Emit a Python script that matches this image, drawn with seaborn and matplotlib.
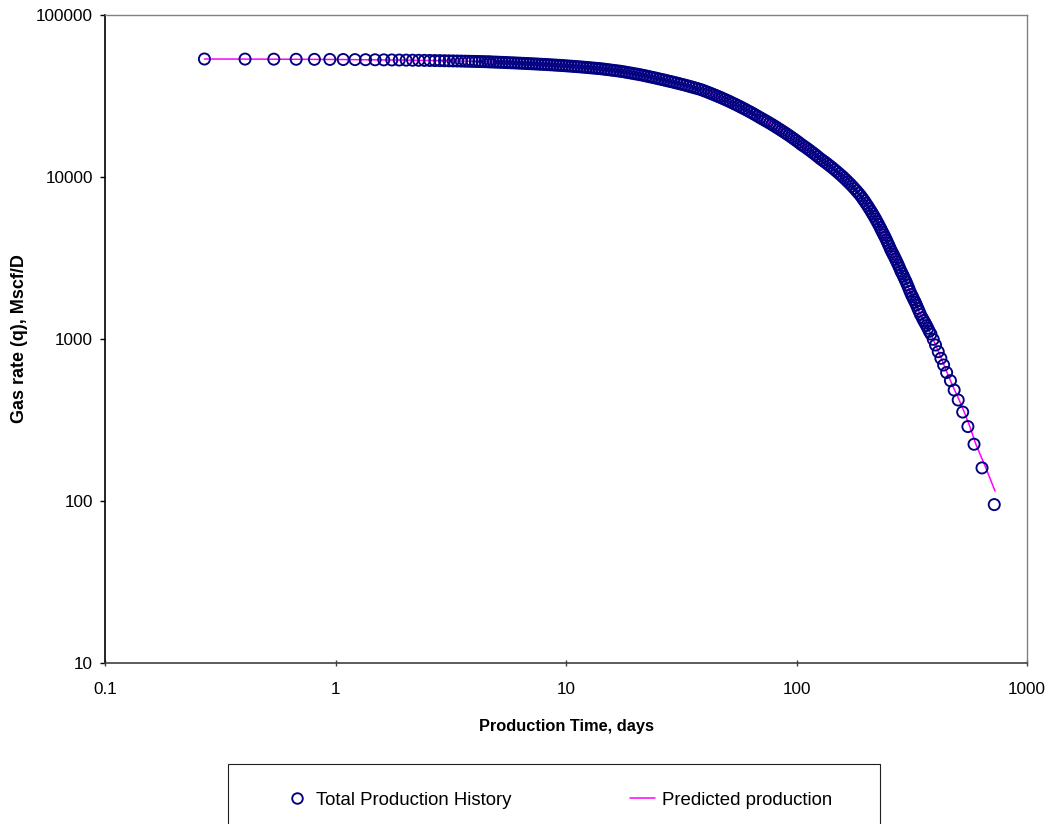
import matplotlib
matplotlib.use("Agg")
import matplotlib.pyplot as plt
from matplotlib.lines import Line2D
from matplotlib.patches import Rectangle
import pandas as pd
import seaborn as sns

# Gas rate history, days vs Mscf/D (early, dense middle and tail sections)
early_days = [0.270, 0.405, 0.540, 0.675, 0.810, 0.945, 1.080, 1.215, 1.350, 1.485,
              1.620, 1.755, 1.890, 2.025, 2.160, 2.295, 2.430, 2.565, 2.700, 2.835,
              2.970, 3.105, 3.240, 3.375, 3.510, 3.645, 3.780, 3.915, 4.050, 4.185,
              4.320, 4.455, 4.590]
early_rate = [53500, 53435, 53370, 53305, 53240, 53175, 53110, 53045, 52980, 52915,
              52850, 52785, 52720, 52655, 52590, 52525, 52460, 52395, 52330, 52265,
              52200, 52135, 52070, 52005, 51940, 51875, 51810, 51745, 51680, 51615,
              51550, 51485, 51420]

mid_days = [4.700, 4.844, 4.991, 5.143, 5.300, 5.461, 5.628, 5.799, 5.976, 6.158,
            6.346, 6.539, 6.739, 6.944, 7.155, 7.373, 7.598, 7.828, 8.066, 8.312,
            8.565, 8.826, 9.095, 9.372, 9.656, 9.950, 10.25, 10.57, 10.89, 11.22,
            11.56, 11.91, 12.28, 12.65, 13.03, 13.43, 13.84, 14.26, 14.70, 15.14,
            15.61, 16.08, 16.57, 17.08, 17.60, 18.13, 18.69, 19.26, 19.84, 20.45,
            21.07, 21.71, 22.37, 23.06, 23.76, 24.48, 25.23, 25.99, 26.78, 27.60,
            28.44, 29.30, 30.20, 31.12, 32.06, 33.04, 34.05, 35.09, 36.15, 37.26,
            38.38, 39.43, 40.51, 41.62, 42.76, 43.93, 45.13, 46.37, 47.65, 48.95,
            50.29, 51.67, 53.08, 54.54, 56.01, 57.56, 59.13, 60.75, 62.41, 64.12,
            65.88, 67.67, 69.52, 71.21, 72.94, 74.71, 76.53, 78.39, 80.28, 82.23,
            84.22, 86.29, 88.38, 90.53, 92.73, 94.99, 97.29, 99.66, 102.1, 104.5,
            107.0, 109.7, 112.3, 115.0, 117.8, 120.7, 123.6, 126.6, 129.7, 132.9,
            136.1, 139.4, 142.8, 146.2, 149.8, 153.4, 157.1, 160.4, 163.9, 167.3,
            170.9, 174.5, 178.2, 182.0, 185.9, 189.8, 193.4, 196.7, 200.0, 203.5,
            207.0, 210.6, 213.8, 217.0, 220.3, 223.6, 227.0, 230.5, 233.4, 236.4,
            239.5, 242.6, 245.8, 249.0, 252.3, 255.6, 258.9, 262.3, 265.7, 269.2,
            272.7, 276.3, 279.9, 283.6, 287.3, 291.1, 294.9, 298.7, 302.6, 306.6,
            310.6, 314.7, 318.8, 323.0, 327.2, 331.4, 335.8, 340.2, 344.6, 351.3,
            356.2, 361.3, 366.3, 371.5, 376.8]
mid_rate = [51340, 51250, 51170, 51080, 50985, 50890, 50790, 50690, 50600, 50500,
            50400, 50290, 50190, 50080, 49970, 49870, 49760, 49650, 49520, 49400,
            49270, 49140, 49020, 48890, 48750, 48590, 48440, 48280, 48130, 47970,
            47820, 47640, 47460, 47280, 47090, 46910, 46730, 46530, 46270, 46020,
            45770, 45520, 45270, 45010, 44710, 44390, 44060, 43730, 43400, 43080,
            42750, 42360, 41970, 41580, 41190, 40800, 40410, 40020, 39620, 39230,
            38830, 38430, 38040, 37640, 37230, 36810, 36380, 35960, 35540, 35110,
            34690, 34190, 33680, 33180, 32670, 32170, 31660, 31160, 30640, 30110,
            29590, 29060, 28530, 28010, 27480, 26950, 26420, 25890, 25360, 24840,
            24310, 23780, 23250, 22800, 22370, 21930, 21500, 21060, 20630, 20190,
            19750, 19320, 18900, 18480, 18060, 17630, 17210, 16790, 16370, 15950,
            15580, 15210, 14840, 14480, 14110, 13740, 13370, 13000, 12670, 12360,
            12050, 11730, 11420, 11100, 10790, 10470, 10170, 9890, 9610, 9330,
            9060, 8780, 8500, 8220, 7940, 7660, 7385, 7135, 6890, 6640,
            6390, 6140, 5930, 5720, 5510, 5300, 5100, 4890, 4710, 4550,
            4390, 4230, 4070, 3910, 3750, 3590, 3460, 3340, 3220, 3100,
            2985, 2865, 2750, 2630, 2535, 2440, 2345, 2255, 2160, 2065,
            1970, 1885, 1820, 1750, 1685, 1620, 1550, 1485, 1420, 1350,
            1300, 1255, 1210, 1165, 1115]

late_days = [383.0, 392.0, 401.0, 412.0, 423.0, 434.7, 448.0, 465.5, 483.0, 503.0,
             526.0, 554.0, 589.0, 638.0, 721.0]
late_rate = [1073, 995, 918, 835, 760, 691, 621, 553, 484, 420,
             354, 288, 224, 160, 95]

# Predicted production curve
pred_days = [0.27, 0.5, 1.0, 2.0, 3.0, 4.253, 5.195, 7.75, 11.56, 14.12,
             17.25, 21.07, 25.73, 31.43, 38.38, 46.89, 57.27, 69.94, 85.43, 104.3,
             127.4, 155.7, 190.1, 210.2, 232.2, 256.6, 283.6, 313.4, 346.4, 383.0,
             420.0, 450.0, 480.0, 508.0, 534.0, 565.0, 600.0, 663.0, 727.0]
pred_rate = [53500, 53390, 53150, 52670, 52190, 51630, 51050, 49690, 47820, 46610,
             44930, 42750, 40150, 37510, 34690, 30950, 27050, 23130, 19500, 15980,
             12910, 10290, 7634, 6168, 4775, 3543, 2629, 1905, 1394, 1070,
             790, 620, 500, 420, 354, 288, 224, 160, 115]

x_ticks = [0.1, 1, 10, 100, 1000]
x_tick_labels = ["0.1", "1", "10", "100", "1000"]
y_ticks = [10, 100, 1000, 10000, 100000]
y_tick_labels = ["10", "100", "1000", "10000", "100000"]
series_labels = ["Total Production History", "Predicted production"]

history = pd.DataFrame({
    "days": early_days + mid_days + late_days,
    "rate": early_rate + mid_rate + late_rate,
})
prediction = pd.DataFrame({"days": pred_days, "rate": pred_rate})

sns.set_theme(style="white")
plt.rcParams["font.family"] = ["Liberation Sans", "DejaVu Sans"]
plt.rcParams["text.color"] = "black"
plt.rcParams["axes.labelcolor"] = "black"
plt.rcParams["xtick.color"] = "black"
plt.rcParams["ytick.color"] = "black"

NAVY = "#000080"
MAGENTA = "#FF00FF"

fig = plt.figure(figsize=(10.5, 8.24), dpi=100)
fig.patch.set_facecolor("white")
ax = fig.add_axes([0.1, 0.1954, 0.8781, 0.7864])
ax.set_xscale("log")
ax.set_yscale("log")

sns.lineplot(data=prediction, x="days", y="rate", color=MAGENTA, linewidth=1.1,
             estimator=None, sort=False, ax=ax, zorder=2)
sns.scatterplot(data=history, x="days", y="rate", marker="o", s=64,
                facecolor="none", edgecolor=NAVY, linewidth=1.35,
                ax=ax, zorder=3, legend=False)

ax.set_xlim(0.1, 1000)
ax.set_ylim(10, 100000)
ax.set_xticks(x_ticks, x_tick_labels)
ax.set_yticks(y_ticks, y_tick_labels)
ax.minorticks_off()

for side in ["top", "right"]:
    ax.spines[side].set_color("#808080")
    ax.spines[side].set_linewidth(1.0)
ax.spines["left"].set_color("black")
ax.spines["left"].set_linewidth(1.2)
ax.spines["bottom"].set_color("#404040")
ax.spines["bottom"].set_linewidth(1.2)

ax.tick_params(axis="y", which="major", left=True, direction="out", length=3.6,
               width=1.0, color="black", pad=5, labelsize=12.3)
ax.tick_params(axis="x", which="major", bottom=True, direction="inout", length=4.3,
               width=1.0, color="#404040", pad=11.5, labelsize=12.3)

ax.set_xlabel("Production Time, days", fontsize=11.8, fontweight="bold")
ax.xaxis.set_label_coords(0.5, -0.086)
ax.set_ylabel("Gas rate (q), Mscf/D", fontsize=13, fontweight="bold")
ax.yaxis.set_label_coords(-0.0835, 0.5)

handles = [
    Line2D([], [], linestyle="none", marker="o", markersize=7.6,
           markerfacecolor="none", markeredgecolor=NAVY, markeredgewidth=1.35),
    Line2D([], [], color=MAGENTA, linewidth=1.1),
]
fig.legend(handles, series_labels, loc="center",
           bbox_to_anchor=(284 / 1050, 1 - 800 / 824, (832 - 284) / 1050, 0),
           mode="expand", ncol=2, frameon=False, fontsize=13.4,
           handlelength=1.35, handletextpad=0.35, borderpad=0, borderaxespad=0,
           labelcolor="black")
fig.add_artist(Rectangle((228 / 1050, -0.05), (880 - 228) / 1050, 1 - 764 / 824 + 0.05,
                         transform=fig.transFigure, fill=False,
                         edgecolor="#202020", linewidth=0.8))

fig.savefig("out.png", dpi=100)
